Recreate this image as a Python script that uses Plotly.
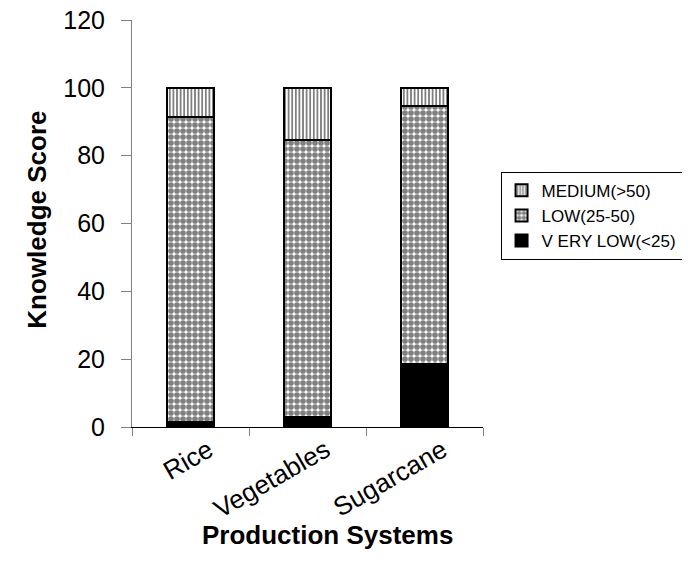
import plotly.graph_objects as go

categories = ["Rice", "Vegetables", "Sugarcane"]
very_low = [1.6, 3.0, 18.5]
low = [89.9, 81.7, 76.2]
medium = [8.5, 15.3, 5.3]
y_ticks = [0, 20, 40, 60, 80, 100, 120]

fig = go.Figure()
fig.add_trace(go.Bar(
    x=categories, y=very_low, name="V ERY LOW(<25)", legendgroup="a",
    marker=dict(color="black", line=dict(color="black", width=2)),
))
fig.add_trace(go.Bar(
    x=categories, y=low, name="LOW(25-50)", legendgroup="b",
    marker=dict(color="white", line=dict(color="black", width=2),
                pattern=dict(shape=".", fgcolor="black", bgcolor="white",
                             size=6, solidity=0.7)),
))
fig.add_trace(go.Bar(
    x=categories, y=medium, name="MEDIUM(>50)", legendgroup="c",
    marker=dict(color="white", line=dict(color="black", width=2),
                pattern=dict(shape="|", fgcolor="black", bgcolor="white",
                             size=3.6, solidity=0.5)),
))

font_family = "Liberation Sans, Arial, sans-serif"
fig.update_layout(
    barmode="stack",
    bargap=0.59,
    width=700, height=577,
    margin=dict(l=124, r=225, t=12, b=158),
    plot_bgcolor="white", paper_bgcolor="white",
    font=dict(family=font_family, color="black", size=20),
    showlegend=True,
    legend=dict(
        x=1.05, y=0.627, xanchor="left", yanchor="top",
        traceorder="reversed",
        bordercolor="black", borderwidth=1,
        font=dict(size=17, family=font_family),
        itemwidth=30,
        tracegroupgap=13,
    ),
    xaxis=dict(
        automargin=False,
        showline=True, linecolor="black", linewidth=1,
        ticks="outside", tickson="boundaries", ticklen=8, tickcolor="gray",
        tickangle=-30,
        tickfont=dict(size=26, family=font_family),
        ticklabelshift=18,
        ticklabelstandoff=-3,
        ticklabeloverflow="allow",
    ),
    yaxis=dict(
        automargin=False,
        range=[0, 120], tickvals=y_ticks,
        showline=True, linecolor="gray", linewidth=1,
        ticks="outside", ticklen=10, tickcolor="gray",
        showgrid=False, zeroline=False,
        tickfont=dict(size=25, family=font_family),
        ticklabelstandoff=11,
        ticklabeloverflow="allow",
    ),
    annotations=[
        dict(text="<b>Production Systems</b>", xref="paper", yref="paper",
             x=0.556, y=-0.265, xanchor="center", yanchor="middle",
             showarrow=False, font=dict(size=26, family=font_family)),
        dict(text="<b>Knowledge Score</b>", xref="paper", yref="paper",
             x=-0.27, y=0.51, xanchor="center", yanchor="middle", textangle=-90,
             showarrow=False, font=dict(size=26, family=font_family)),
    ],
)

fig.write_html("out.html")
